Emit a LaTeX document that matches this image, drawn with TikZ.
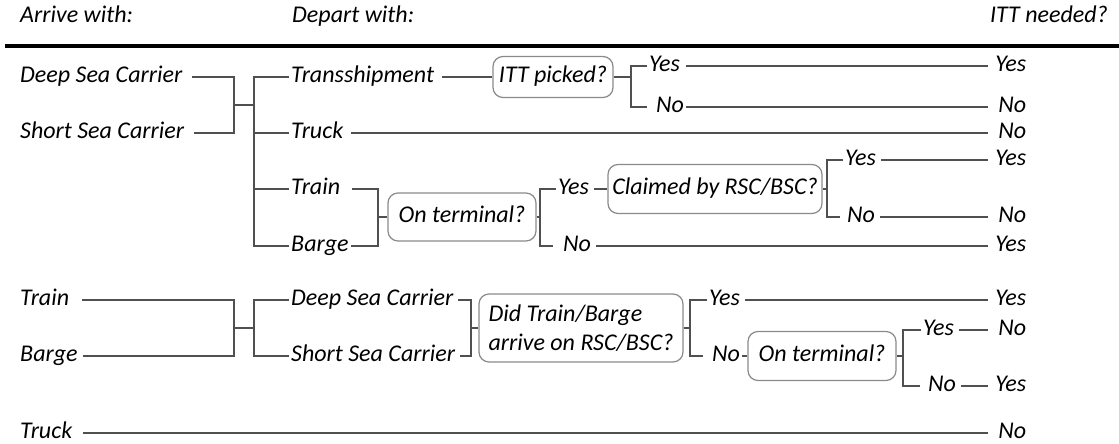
\documentclass[tikz,border=0pt]{standalone}
\usepackage{fontspec}
\setmainfont{Carlito}
\usetikzlibrary{positioning,calc}
\definecolor{linegray}{HTML}{505050}
\definecolor{boxgray}{HTML}{8A8A8A}
\newcommand{\treefont}{\fontsize{24}{29}\selectfont\itshape}
\tikzset{
    txt/.style={text height=15pt,text depth=5pt},
    lbl/.style={txt,font=\treefont,inner xsep=2pt,inner ysep=0pt,anchor=west},
    res/.style={txt,font=\treefont,inner sep=0pt,text width=38pt,align=right,anchor=west},
    qbox/.style={draw=boxgray,line width=1.2pt,rounded corners=10pt,font=\treefont,inner sep=0pt},
    ln/.style={draw=linegray,line width=1.1pt},
    gap/.style={shorten <=#1},
    gap/.default=6pt
}
\begin{document}
\begin{tikzpicture}[x=1pt,y=-1pt]
    \useasboundingbox (0,0) rectangle (1119,444);

    % header
    \node [lbl] (arr) at (18,18) {Arrive with:};
    \node [lbl] (dep) at (290,18) {Depart with:};
    \node [txt,font=\treefont,inner sep=0pt,anchor=east] (need) at (1108,18) {ITT needed?};
    \coordinate (hl) at (5,46);
    \coordinate (hr) at (1119,46);
    \draw [line width=3.5pt] (hl) -- (hr);

    % sea carriers
    \node [lbl] (dsc) at (18,77) {Deep Sea Carrier};
    \node [lbl] (ssc) at (18,133) {Short Sea Carrier};
    \coordinate (j1) at (234,105);
    \coordinate (j2) at (254,105);
    \node [lbl] (trans) at (289,77) {Transshipment};
    \node [lbl] (truck) at (289,133) {Truck};
    \node [lbl] (train) at (289,189) {Train};
    \node [lbl] (barge) at (289,246) {Barge};

    \draw [ln,gap=8pt] (dsc.east) -| (j1);
    \draw [ln,gap=8pt] (ssc.east) -| (j1);
    \draw [ln] (j1) -- (j2);
    \draw [ln] (trans.west) -| (j2) |- (barge.west);
    \draw [ln] (truck.west) -- (truck.west -| j2);
    \draw [ln] (train.west) -- (train.west -| j2);

    \node [qbox,txt,minimum width=120pt,minimum height=41pt] (pick) at (553,77) {ITT picked?};
    \coordinate (j3) at (631,77);
    \node [lbl] (pyes) at (647,66) {Yes};
    \node [lbl] (pno) at (654,107) {No};
    \node [res] (r1) at (988,66) {Yes};
    \node [res] (r2) at (988,107) {No};
    \node [res] (r3) at (988,133) {No};

    \draw [ln,gap] (trans.east) -- (pick.west);
    \draw [ln] (pick.east) -- (j3);
    \draw [ln,shorten >=7pt] (pyes.west) -| (j3) |- (pno.west);
    \draw [ln,gap=4pt] (pyes.east) -- (r1.west);
    \draw [ln] (pno.east) -- (r2.west);
    \draw [ln,gap] (truck.east) -- (r3.west);

    \coordinate (j4) at (378,217);
    \node [qbox,txt,minimum width=148pt,minimum height=48pt] (term) at (462,217) {On terminal?};
    \coordinate (j5) at (540,217);
    \node [lbl] (tyes) at (556,189) {Yes};
    \node [lbl] (tno) at (561,246) {No};
    \node [qbox,txt,minimum width=214pt,minimum height=49pt] (claim) at (715,189) {Claimed by RSC/BSC?};
    \coordinate (j6) at (827,189);
    \node [lbl] (cyes) at (843,160) {Yes};
    \node [lbl] (cno) at (845,217) {No};
    \node [res] (r4) at (988,160) {Yes};
    \node [res] (r5) at (988,217) {No};
    \node [res] (r6) at (988,246) {Yes};

    \draw [ln,gap=10pt] (train.east) -| (j4);
    \draw [ln] (barge.east) -| (j4);
    \draw [ln] (j4) -- (term.west);
    \draw [ln] (term.east) -- (j5);
    \draw [ln,shorten >=8pt] (tyes.west) -| (j5) |- (tno.west);
    \draw [ln,gap=3pt] (tyes.east) -- (claim.west);
    \draw [ln] (claim.east) -- (j6);
    \draw [ln,shorten >=5pt] (cyes.west) -| (j6) |- (cno.west);
    \draw [ln,gap=3pt] (cyes.east) -- (r4.west);
    \draw [ln,gap=3pt] (cno.east) -- (r5.west);
    \draw [ln,gap=3pt] (tno.east) -- (r6.west);

    % rail and barge
    \node [lbl] (train2) at (18,300) {Train};
    \node [lbl] (barge2) at (18,356) {Barge};
    \coordinate (j7) at (234,328);
    \coordinate (j8) at (254,328);
    \node [lbl] (dsc2) at (289,300) {Deep Sea Carrier};
    \node [lbl] (ssc2) at (289,356) {Short Sea Carrier};
    \coordinate (j9) at (471,328);
    \node [qbox,minimum width=204pt,minimum height=68pt,align=left] (arrq) at (581,328) {Did Train/Barge\\arrive on RSC/BSC?};
    \coordinate (j10) at (690,328);
    \node [lbl] (ayes) at (707,300) {Yes};
    \node [lbl] (ano) at (710,356) {No};
    \node [res] (r7) at (988,300) {Yes};
    \node [qbox,txt,minimum width=148pt,minimum height=49pt] (term2) at (822,356) {On terminal?};
    \coordinate (j11) at (903,356);
    \node [lbl] (t2yes) at (921,330) {Yes};
    \node [lbl] (t2no) at (926,386) {No};
    \node [res] (r8) at (988,330) {No};
    \node [res] (r9) at (988,386) {Yes};

    \draw [ln,gap=11pt] (train2.east) -| (j7);
    \draw [ln,gap=3pt] (barge2.east) -| (j7);
    \draw [ln] (j7) -- (j8);
    \draw [ln] (dsc2.west) -| (j8) |- (ssc2.west);
    \draw [ln,gap=3pt] (dsc2.east) -| (j9);
    \draw [ln,gap=3pt] (ssc2.east) -| (j9);
    \draw [ln] (j9) -- (arrq.west);
    \draw [ln] (arrq.east) -- (j10);
    \draw [ln,shorten >=7pt] (ayes.west) -| (j10) |- (ano.west);
    \draw [ln,gap=3pt] (ayes.east) -- (r7.west);
    \draw [ln] (ano.east) -- (term2.west);
    \draw [ln] (term2.east) -- (j11);
    \draw [ln,shorten >=6pt] (t2yes.west) -| (j11) |- (t2no.west);
    \draw [ln,gap=3pt] (t2yes.east) -- (r8.west);
    \draw [ln,gap=3pt] (t2no.east) -- (r9.west);

    % truck
    \node [lbl] (truck2) at (18,433) {Truck};
    \node [res] (r10) at (988,433) {No};
    \draw [ln,gap=9pt] (truck2.east) -- (r10.west);
\end{tikzpicture}
\end{document}
